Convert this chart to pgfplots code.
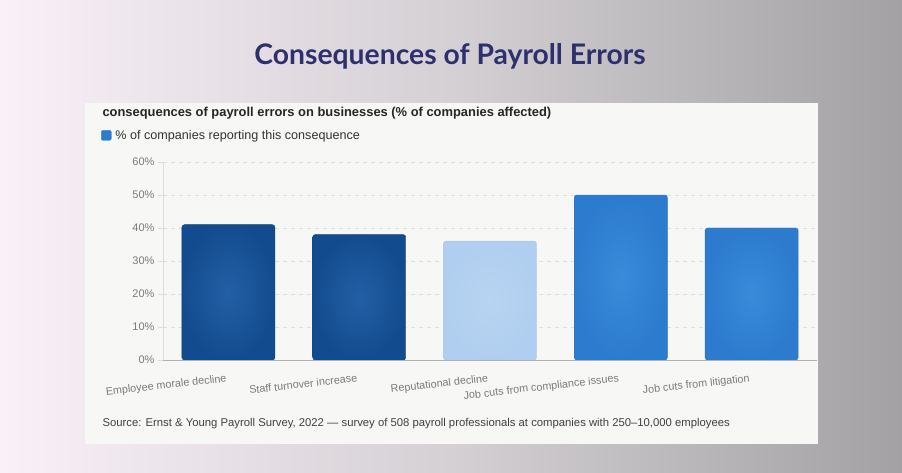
\documentclass[border=0pt]{standalone}
\usepackage{fontspec}
\setmainfont{Liberation Sans}
\newfontfamily\titlefont{Lato}
\usepackage{pgfplots}
\pgfplotsset{compat=1.18}
\definecolor{bgL}{HTML}{FAF0F8}
\definecolor{bgM}{HTML}{D4D0D4}
\definecolor{bgR}{HTML}{A3A1A3}
\definecolor{panel}{HTML}{F7F7F6}
\definecolor{titleC}{HTML}{2E2F6E}
\definecolor{darkB}{HTML}{235FA6}
\definecolor{darkO}{HTML}{134C8E}
\definecolor{darkBE}{HTML}{0F4583}
\definecolor{midB}{HTML}{3A8BDA}
\definecolor{midO}{HTML}{2C7BCE}
\definecolor{midBE}{HTML}{2A74C4}
\definecolor{lightB}{HTML}{B8D4F2}
\definecolor{lightO}{HTML}{B0CEEF}
\definecolor{lightBE}{HTML}{A9C8EC}
\definecolor{tickC}{HTML}{7A7A7A}
\definecolor{gridC}{HTML}{DDDDDD}
\begin{document}
\begin{tikzpicture}[x=1pt,y=1pt]
\shade[left color=bgL, right color=bgR, middle color=bgM] (0,0) rectangle (902,473);
\fill[panel] (85,29) rectangle (818,370);
\node[font=\titlefont\bfseries\fontsize{28.3}{32}\selectfont, text=titleC] at (450,417) {Consequences of Payroll Errors};
\node[anchor=west, font=\bfseries\fontsize{12.9}{15}\selectfont, text=black!85] at (99,360) {consequences of payroll errors on businesses (\% of companies affected)};
\node[anchor=west, font=\fontsize{11.3}{13}\selectfont, text=black!75] at (99,49) {Source: Ernst \& Young Payroll Survey, 2022 — survey of 508 payroll professionals at companies with 250–10,000 employees};
\begin{axis}[
  at={(163pt,113pt)}, anchor=south west,
  scale only axis, width=654pt, height=198pt,
  xmin=-0.5, xmax=4.5, ymin=0, ymax=60,
  xtick={0,1,2,3,4},
  xticklabels={Employee morale decline, Staff turnover increase, Reputational decline, Job cuts from compliance issues, Job cuts from litigation},
  x tick label style={rotate=6.5, anchor=north east, font=\fontsize{10.8}{12}\selectfont, text=tickC, yshift=-5pt},
  ytick={0,10,20,30,40,50,60},
  yticklabel={\pgfmathprintnumber{\tick}\%},
  y tick label style={font=\fontsize{11}{12}\selectfont, text=tickC},
  /pgf/number format/assume math mode=true,
  ymajorgrids, grid style={gridC, dash pattern=on 4pt off 4pt, line width=0.6pt},
  axis x line*=bottom, axis y line*=left,
  x axis line style={draw=black!30, -},
  y axis line style={draw=gridC, -},
  major tick length=5pt,
  xtick style={draw=none},
  ytick style={draw=gridC},
  tick align=outside,
  ybar, bar width=93pt, bar shift=0pt,
  legend style={at={(-0.095,1.135)}, anchor=west, draw=none, fill=none, font=\fontsize{12.6}{14}\selectfont, text=black!80, legend cell align=left, inner sep=0pt, nodes={inner xsep=4pt}},
  legend image code/.code={\draw[fill=midO, draw=midBE, rounded corners=1.5pt] (0pt,-5pt) rectangle (10pt,5pt);},
]
\addlegendimage{}
\addlegendentry{\% of companies reporting this consequence}
\addplot[inner color=darkB, outer color=darkO, draw=darkBE, rounded corners=2.5pt, forget plot] coordinates {(0,41)};
\addplot[inner color=darkB, outer color=darkO, draw=darkBE, rounded corners=2.5pt, forget plot] coordinates {(1,38)};
\addplot[inner color=lightB, outer color=lightO, draw=lightBE, rounded corners=2.5pt, forget plot] coordinates {(2,36)};
\addplot[inner color=midB, outer color=midO, draw=midBE, rounded corners=2.5pt, forget plot] coordinates {(3,50)};
\addplot[inner color=midB, outer color=midO, draw=midBE, rounded corners=2.5pt, forget plot] coordinates {(4,40)};
\end{axis}
\end{tikzpicture}
\end{document}
